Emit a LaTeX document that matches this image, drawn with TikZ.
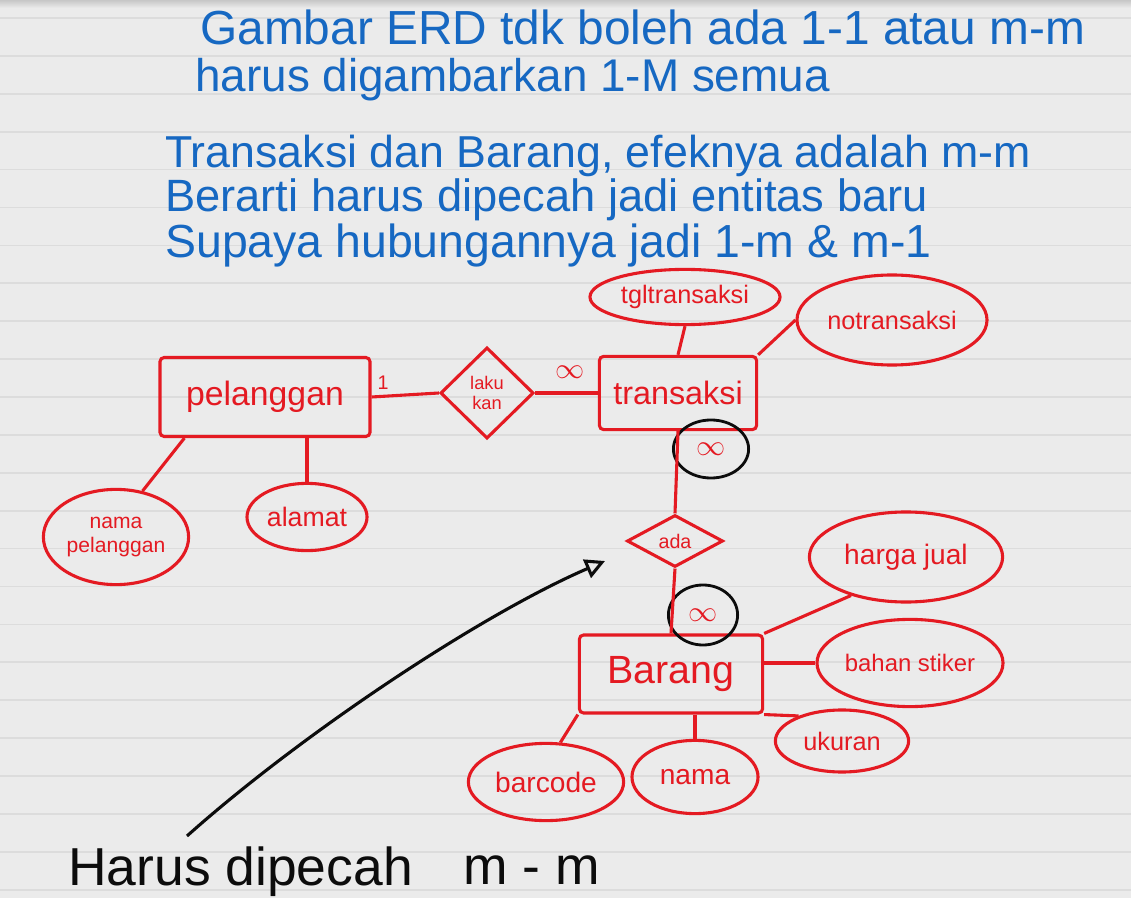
\documentclass[tikz,border=0pt]{standalone}
\usepackage{fontspec}
\setmainfont{Liberation Sans}
\usetikzlibrary{arrows.meta, shapes.geometric}
\definecolor{paper}{RGB}{235,235,235}
\definecolor{rulegray}{RGB}{220,220,220}
\definecolor{penred}{RGB}{228,26,34}
\definecolor{penblue}{RGB}{22,104,194}
\definecolor{penblack}{RGB}{12,12,12}

\begin{document}
\begin{tikzpicture}[x=0.025cm, y=-0.025cm,
    paperline/.style={draw=rulegray, line width=1.2pt},
    entity/.style={rectangle, rounded corners=3pt, draw=penred, line width=2.2pt,
                   text=penred, inner sep=0pt},
    attr/.style={ellipse, draw=penred, line width=2.2pt, text=penred,
                 inner sep=0pt, align=center},
    rel/.style={diamond, draw=penred, line width=2.2pt, text=penred,
                inner sep=0pt, align=center},
    link/.style={draw=penred, line width=2.2pt},
    card/.style={text=penred, inner sep=0pt},
    ring/.style={ellipse, draw=penblack, line width=2pt, text=penred, inner sep=0pt},
    note/.style={text=penblue, inner sep=0pt, anchor=base west},
    memo/.style={text=penblack, inner sep=0pt, anchor=base west},
    pointer/.style={-{Triangle[open, length=14pt, width=14pt]}, draw=penblack, line width=2.2pt}
  ]

  % lined paper
  \useasboundingbox (0,0) rectangle (1131,898);
  \fill[paper] (0,0) rectangle (1131,898);
  \shade[top color=black!22, bottom color=paper] (0,0) rectangle (1131,8);
  \foreach \k in {0,...,23}
    \draw[paperline] (0,{18+37.9*\k}) -- (1131,{18+37.9*\k});

  % notes on top
  \node[note, font=\fontsize{34}{40}\selectfont] (line1) at (200,45) {Gambar ERD tdk boleh ada 1-1 atau m-m};
  \node[note, font=\fontsize{32.6}{38}\selectfont] (line2) at (195,92) {harus digambarkan 1-M semua};
  \node[note, font=\fontsize{31.8}{38}\selectfont] (line3) at (165,168) {Transaksi dan Barang, efeknya adalah m-m};
  \node[note, font=\fontsize{32.2}{38}\selectfont] (line4) at (165,212) {Berarti harus dipecah jadi entitas baru};
  \node[note, font=\fontsize{33}{38}\selectfont] (line5) at (165,258) {Supaya hubungannya jadi 1-m \& m-1};

  % entities and relations
  \node[entity, minimum width=5.25cm, minimum height=1.975cm, font=\fontsize{24}{28}\selectfont] (pelanggan) at (265,397) {pelanggan};
  \node[rel, minimum width=2.33cm, minimum height=2.28cm, font=\fontsize{13}{14}\selectfont] (lakukan) at (487,393) {laku\\kan};
  \node[entity, minimum width=3.93cm, minimum height=1.83cm, font=\fontsize{23}{27}\selectfont] (transaksi) at (678,393) {transaksi};
  \node[rel, aspect=1.8, minimum width=2.4cm, minimum height=1.3cm, font=\fontsize{14}{16}\selectfont] (ada) at (675,541) {ada};
  \node[entity, minimum width=4.58cm, minimum height=1.95cm, font=\fontsize{28}{32}\selectfont] (barang) at (671,674) {Barang};

  % attributes
  \node[attr, minimum width=4.75cm, minimum height=1.38cm, font=\fontsize{18}{21}\selectfont] (tgltransaksi) at (685,297) {tgltransaksi};
  \node[attr, minimum width=4.75cm, minimum height=2.25cm, font=\fontsize{18}{21}\selectfont] (notransaksi) at (892,320) {notransaksi};
  \node[attr, minimum width=3.63cm, minimum height=2.38cm, font=\fontsize{15}{17}\selectfont] (namapelanggan) at (116,537) {nama\\pelanggan};
  \node[attr, minimum width=3.0cm, minimum height=1.68cm, font=\fontsize{19}{22}\selectfont] (alamat) at (307,517) {alamat};
  \node[attr, minimum width=4.83cm, minimum height=2.25cm, font=\fontsize{20}{24}\selectfont] (hargajual) at (906,557) {harga jual};
  \node[attr, minimum width=4.65cm, minimum height=2.18cm, font=\fontsize{17}{20}\selectfont] (bahanstiker) at (910,663) {bahan stiker};
  \node[attr, minimum width=3.33cm, minimum height=1.55cm, font=\fontsize{18}{21}\selectfont] (ukuran) at (842,741) {ukuran};
  \node[attr, minimum width=3.15cm, minimum height=1.83cm, font=\fontsize{20}{24}\selectfont] (nama) at (695,777) {nama};
  \node[attr, minimum width=3.88cm, minimum height=1.93cm, font=\fontsize{20}{24}\selectfont] (barcode) at (546,782) {barcode};

  % cardinalities
  \node[card, font=\fontsize{14}{16}\selectfont] (one) at (383,383) {1};
  \node[card, font=\fontsize{22}{24}\selectfont] (manyA) at (570,372) {$\infty$};
  \node[ring, minimum width=1.88cm, minimum height=1.45cm, font=\fontsize{22}{24}\selectfont] (manyB) at (711,449) {$\infty$};
  \node[ring, minimum width=1.73cm, minimum height=1.5cm, font=\fontsize{22}{24}\selectfont] (manyC) at (703,615) {$\infty$};

  % connectors
  \draw[link] (pelanggan.east) -- (lakukan.west);
  \draw[link] (lakukan.east) -- (transaksi.west);
  \draw[link] (tgltransaksi.south) -- (transaksi.north);
  \draw[link] (transaksi.north east) -- (notransaksi.west);
  \draw[link] (transaksi.south) -- (ada.north);
  \draw[link] (ada.south) -- (barang.north);
  \draw[link] (barang.north east) -- (hargajual.215);
  \draw[link] (bahanstiker.west -| barang.east) -- (bahanstiker.west);
  \draw[link] (barang.south east) -- (ukuran.150);
  \draw[link] (nama.north |- barang.south) -- (nama.north);
  \draw[link] (barang.south west) -- (barcode.70);
  \draw[link] (pelanggan.207) -- (namapelanggan.60);
  \draw[link] (alamat.north |- pelanggan.south) -- (alamat.north);

  % black remark
  \node[memo, font=\fontsize{38}{44}\selectfont] (harus) at (68,885) {Harus dipecah};
  \node[memo, font=\fontsize{38}{44}\selectfont] (mm) at (463,884) {m - m};
  \coordinate (tail) at (187,836);
  \coordinate (tip) at (605,561);
  \draw[pointer] (tail) .. controls (300,735) and (480,615) .. (tip);

\end{tikzpicture}
\end{document}
